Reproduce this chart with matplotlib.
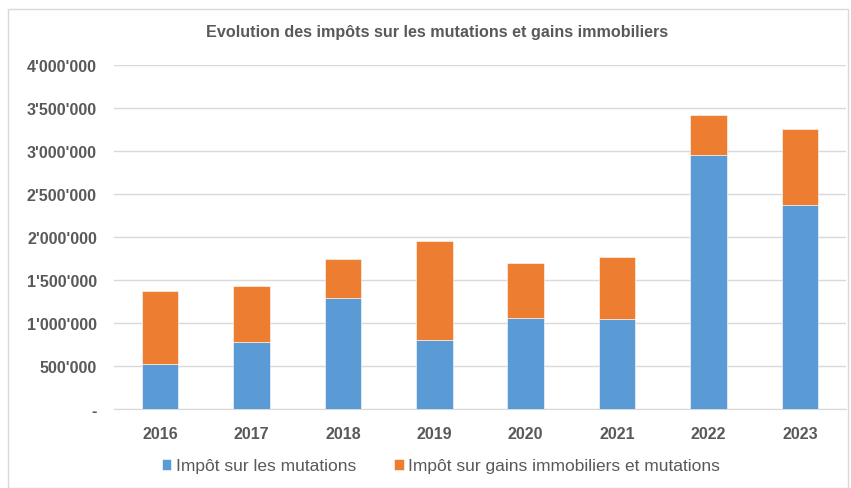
import numpy as np
from matplotlib import pyplot as plt
from matplotlib.ticker import FuncFormatter, MultipleLocator
from matplotlib.patches import Rectangle

plt.rcParams['font.family'] = ['Liberation Sans', 'DejaVu Sans']

years = ['2016', '2017', '2018', '2019', '2020', '2021', '2022', '2023']
mutations = [522000, 774000, 1296000, 805000, 1056000, 1048000, 2958000, 2367000]
totals = [1369000, 1427000, 1748000, 1953000, 1702000, 1771000, 3414000, 3260000]
gains = [t - m for t, m in zip(totals, mutations)]

blue = '#5B9BD5'
orange = '#ED7D31'
txt = '#595959'

fig = plt.figure(figsize=(8.51, 4.89), dpi=100)
fig.patches.append(Rectangle((8 / 851, 0.0), 840 / 851, 1 - 10 / 489, transform=fig.transFigure,
                             fill=False, edgecolor='#D9D9D9', linewidth=1))
ax = fig.add_axes([114.3 / 851, 1 - 410 / 489, 731.4 / 851, 344 / 489])

x = np.arange(len(years))
ax.bar(x, mutations, width=0.4, color=blue, edgecolor='white', linewidth=0.4,
       label='Impôt sur les mutations', zorder=3)
ax.bar(x, gains, width=0.4, bottom=mutations, color=orange, edgecolor='white', linewidth=0.4,
       label='Impôt sur gains immobiliers et mutations', zorder=3)

ax.set_xlim(-0.5, len(years) - 0.5)
ax.set_ylim(0, 4000000)
ax.yaxis.set_major_locator(MultipleLocator(500000))


def fmt(v, pos):
    if v == 0:
        return '-'
    return f'{int(v):,}'.replace(',', "'")


ax.yaxis.set_major_formatter(FuncFormatter(fmt))
ax.set_xticks(x)
ax.set_xticklabels(years)
ax.grid(axis='y', color='#D9D9D9', linewidth=1, zorder=0)
for s in ['top', 'right', 'left']:
    ax.spines[s].set_visible(False)
ax.spines['bottom'].set_color('#D9D9D9')
ax.tick_params(axis='both', length=0, labelsize=11.5, colors=txt)
ax.tick_params(axis='y', pad=12.5)
ax.tick_params(axis='x', pad=12)
for lab in ax.get_xticklabels() + ax.get_yticklabels():
    lab.set_fontweight('bold')

fig.text(437 / 851, 1 - 33 / 489, 'Evolution des impôts sur les mutations et gains immobiliers',
         ha='center', va='center', fontsize=11.6, fontweight='bold', color=txt)

fig.legend(loc='center', bbox_to_anchor=(441 / 851, 1 - 467 / 489), ncol=2, frameon=False,
           fontsize=12.5, handlelength=0.55, handleheight=0.55, handletextpad=0.25,
           columnspacing=2.2, labelcolor=txt)

fig.savefig('out.png', dpi=100)
